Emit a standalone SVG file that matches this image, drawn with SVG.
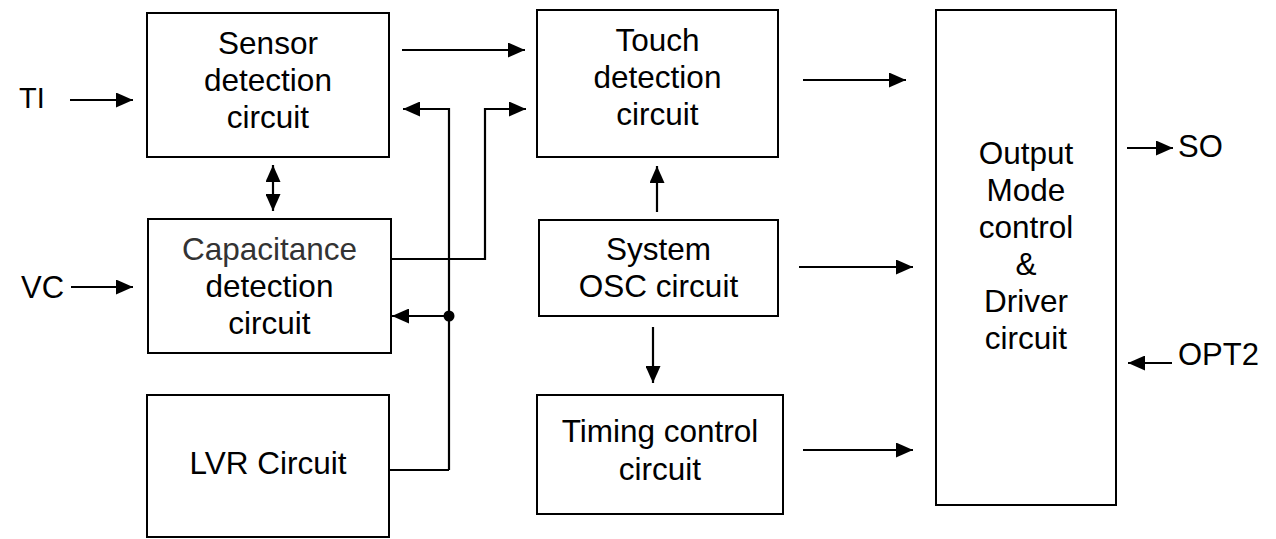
<svg xmlns="http://www.w3.org/2000/svg" width="1276" height="539" viewBox="0 0 1276 539">
<style>
.box{fill:#fff;stroke:#000;stroke-width:2}
.t{font-family:"Liberation Sans",Arial,sans-serif;font-size:31.5px;fill:#000;text-anchor:middle}
.lbl{font-family:"Liberation Sans",Arial,sans-serif;font-size:31px;fill:#000}
.w{fill:none;stroke:#000;stroke-width:2.2}
.a{fill:none;stroke:#000;stroke-width:2.2;marker-end:url(#ah)}
</style>
<defs>
<marker id="ah" markerUnits="userSpaceOnUse" markerWidth="17" markerHeight="15" refX="17" refY="7.5" orient="auto-start-reverse">
<path d="M0,0 L17,7.5 L0,15 z" fill="#000"/>
</marker>
</defs>
<rect width="1276" height="539" fill="#fff"/>
<g id="sensor">
<rect class="box" x="147" y="13" width="242" height="144"/>
<text class="t" x="268" y="54">Sensor</text>
<text class="t" x="268" y="91">detection</text>
<text class="t" x="268" y="128">circuit</text>
</g>
<g id="capacitance">
<rect class="box" x="148" y="219" width="243" height="134"/>
<text class="t" x="269.5" y="260" style="fill:#333">Capacitance</text>
<text class="t" x="269.5" y="297">detection</text>
<text class="t" x="269.5" y="334">circuit</text>
</g>
<g id="lvr">
<rect class="box" x="147" y="395" width="242" height="142"/>
<text class="t" x="268" y="474">LVR Circuit</text>
</g>
<g id="touch">
<rect class="box" x="537" y="10" width="241" height="147"/>
<text class="t" x="657.5" y="51">Touch</text>
<text class="t" x="657.5" y="88">detection</text>
<text class="t" x="657.5" y="125">circuit</text>
</g>
<g id="osc">
<rect class="box" x="539" y="220" width="239" height="96"/>
<text class="t" x="658.5" y="260">System</text>
<text class="t" x="658.5" y="297">OSC circuit</text>
</g>
<g id="timing">
<rect class="box" x="537" y="395" width="246" height="119"/>
<text class="t" x="660" y="442">Timing control</text>
<text class="t" x="660" y="480">circuit</text>
</g>
<g id="output">
<rect class="box" x="936" y="10" width="180" height="495"/>
<text class="t" x="1026" y="164">Output</text>
<text class="t" x="1026" y="201">Mode</text>
<text class="t" x="1026" y="238">control</text>
<text class="t" x="1026" y="275">&amp;</text>
<text class="t" x="1026" y="312">Driver</text>
<text class="t" x="1026" y="349">circuit</text>
</g>
<g id="labels">
<text class="lbl" x="19" y="108" style="font-size:29px">TI</text>
<text class="lbl" x="21" y="298">VC</text>
<text class="lbl" x="1178" y="157">SO</text>
<text class="lbl" x="1178" y="365">OPT2</text>
</g>
<g id="connectors">
<path class="a" d="M70,100 H133"/>
<path class="a" d="M71,287 H133"/>
<path class="a" d="M402,50 H525"/>
<path class="w" d="M273,165 V211" style="marker-start:url(#ah);marker-end:url(#ah)"/>
<path class="a" d="M449,470 V109 H403"/>
<path class="w" d="M389,470 H449"/>
<path class="a" d="M449,316 H392"/>
<circle cx="449" cy="316" r="5.5" fill="#000"/>
<path class="a" d="M391,259 H485 V109 H526"/>
<path class="a" d="M657,212 V166"/>
<path class="a" d="M653,327 V383"/>
<path class="a" d="M803,80 H906"/>
<path class="a" d="M799,267 H913"/>
<path class="a" d="M803,450 H913"/>
<path class="a" d="M1127,148 H1173"/>
<path class="a" d="M1172,363 H1128"/>
</g>
</svg>
